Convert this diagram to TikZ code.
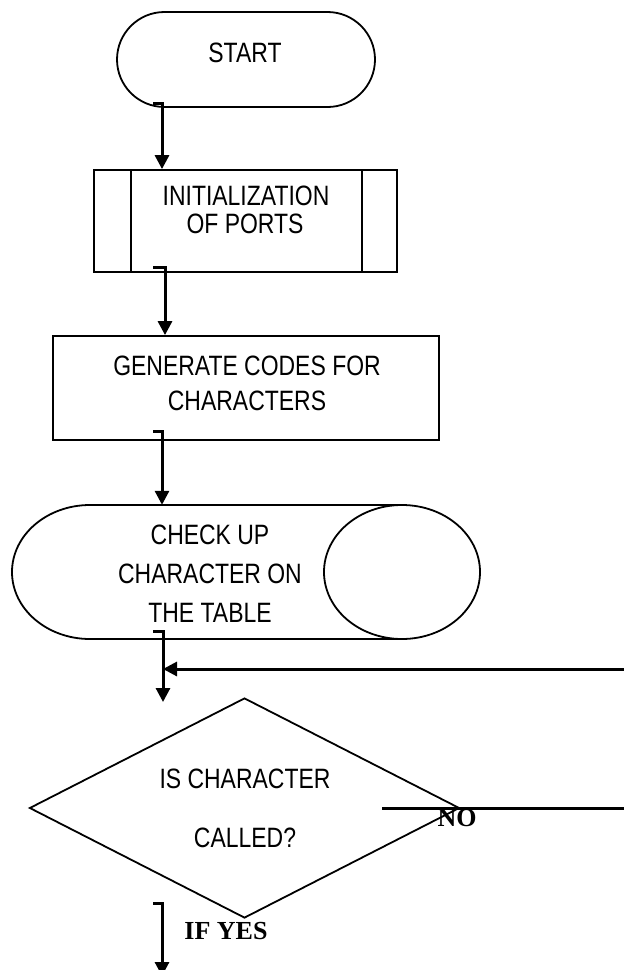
\documentclass[tikz,border=0pt]{standalone}
\usepackage{fontspec}
\setmainfont{Liberation Serif}
\newfontfamily\narrowsans[FakeStretch=0.82]{Liberation Sans}
\usetikzlibrary{arrows.meta,shapes.misc,shapes.geometric,calc}
\begin{document}
\begin{tikzpicture}[x=1pt,y=1pt,
  box/.style={draw,line width=1.8pt,inner sep=0pt},
  lbl/.style={font=\narrowsans\fontsize{28}{30}\selectfont,anchor=base,inner sep=0pt},
  boldlbl/.style={font=\bfseries\fontsize{26}{28}\selectfont,anchor=base,inner sep=0pt},
  arr/.style={line width=3pt,-{Triangle[length=14pt,width=14pt]}},
  bar/.style={line width=3pt}]
\useasboundingbox (0,0) rectangle (624,-970);

% START
\node[box,rounded rectangle,minimum width=258pt,minimum height=95pt] (start) at (246,-59.5) {};
\node[lbl] (tstart) at (245,-62) {START};

% INITIALIZATION (predefined process)
\node[box,rectangle,minimum width=303pt,minimum height=102pt] (init) at (245.5,-221) {};
\draw[line width=1.8pt] ($(init.north west)+(38,0)$) -- ($(init.south west)+(38,0)$);
\draw[line width=1.8pt] ($(init.north east)+(-36,0)$) -- ($(init.south east)+(-36,0)$);
\node[lbl] (tinit1) at (246,-205) {INITIALIZATION};
\node[lbl] (tinit2) at (245,-233) {OF PORTS};

% GENERATE
\node[box,rectangle,minimum width=386pt,minimum height=104pt] (gen) at (246,-388) {};
\node[lbl] (tgen1) at (247,-375) {GENERATE CODES FOR};
\node[lbl] (tgen2) at (247,-410) {CHARACTERS};

% CHECK UP (horizontal cylinder)
\node[inner sep=0pt,minimum width=468pt,minimum height=134pt] (chk) at (246,-572) {};
\draw[line width=1.8pt] (402,-505) -- (90,-505)
  arc[start angle=90,end angle=270,x radius=78,y radius=67] -- (402,-639);
\draw[line width=1.8pt] (402,-572) ellipse[x radius=78,y radius=67];
\node[lbl] (tchk1) at (210,-544) {CHECK UP};
\node[lbl] (tchk2) at (210,-583) {CHARACTER ON};
\node[lbl] (tchk3) at (210,-622) {THE TABLE};

% DECISION
\node[boldlbl] (tno) at (457,-826) {NO};
\node[box,diamond,minimum width=430pt,minimum height=220pt] (dec) at (244.5,-808) {};
\node[lbl] (tdec1) at (245,-788) {IS CHARACTER};
\node[lbl] (tdec2) at (245,-847) {CALLED?};
\node[boldlbl] (tyes) at (226,-939) {IF YES};

% connector coordinates
\coordinate (h1) at (153,-103); \coordinate (x1) at (162,0);
\coordinate (h2) at (153,-267); \coordinate (x2) at (165,0);
\coordinate (h3) at (153,-431); \coordinate (x3) at (162,0);
\coordinate (h4) at (153,-631); \coordinate (x4) at (163,0);
\coordinate (e4) at (163,-702);
\coordinate (loopR) at (628,-669);
\coordinate (noL) at (382,-808); \coordinate (noR) at (628,-808);
\coordinate (h5) at (153,-903); \coordinate (e5) at (162,-976);

% connectors
\draw[arr] (h1) -| (init.north -| x1);
\draw[arr] (h2) -| (gen.north -| x2);
\draw[arr] (h3) -| (chk.north -| x3);
\draw[arr] (h4) -| (e4);
\draw[arr] (loopR) -- (loopR -| x4);
\draw[bar] (noL) -- (noR);
\draw[arr] (h5) -| (e5);
\end{tikzpicture}
\end{document}
